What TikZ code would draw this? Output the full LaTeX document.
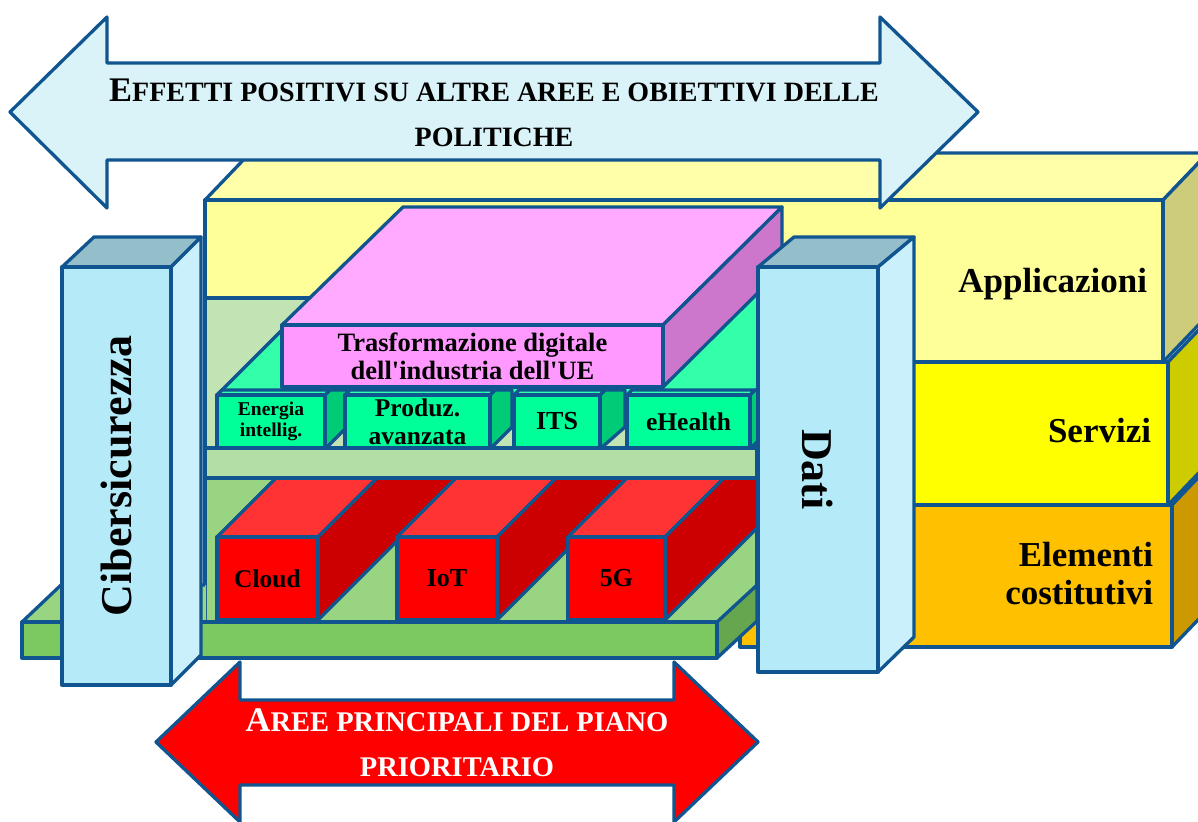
\documentclass[tikz,border=0pt]{standalone}
\usepackage{fontspec}
\setmainfont{Liberation Serif}
\usepackage{graphicx}
\definecolor{ln}{HTML}{10558F}
\definecolor{apF}{HTML}{FFFF99}
\definecolor{apT}{HTML}{FFFFAA}
\definecolor{apS}{HTML}{CCCC7A}
\definecolor{seF}{HTML}{FFFF00}
\definecolor{seS}{HTML}{CCCC00}
\definecolor{elF}{HTML}{FFC000}
\definecolor{elS}{HTML}{CC9A00}
\definecolor{wallU}{HTML}{C2E3B4}
\definecolor{shelf}{HTML}{B3DEA5}
\definecolor{tealT}{HTML}{33FFAA}
\definecolor{tealF}{HTML}{00FF99}
\definecolor{tealS}{HTML}{00CC77}
\definecolor{pkT}{HTML}{FFAAFF}
\definecolor{pkF}{HTML}{FF99FF}
\definecolor{pkS}{HTML}{CC77CC}
\definecolor{lowG}{HTML}{99D483}
\definecolor{rdT}{HTML}{FF3333}
\definecolor{rdF}{HTML}{FF0000}
\definecolor{rdS}{HTML}{CC0000}
\definecolor{platF}{HTML}{7DC961}
\definecolor{platS}{HTML}{66A64E}
\definecolor{cyF}{HTML}{B5EBF9}
\definecolor{cyS}{HTML}{C9F0FB}
\definecolor{cyT}{HTML}{95BECB}
\definecolor{arT}{HTML}{DAF3F8}
\newcommand\myinitcap[1]{{\fontsize{34.5}{44}\selectfont #1}}
\begin{document}
\begin{tikzpicture}[x=1pt,y=-1pt,
  face/.style={draw=ln,line width=3.3pt,line join=round},
  front/.style={face,rectangle,inner sep=0pt,outer sep=0pt,align=center,font=\bfseries},
  lbl/.style={inner sep=0pt,outer sep=0pt,text=black}]
\useasboundingbox (0,0) rectangle (1198,821);
\clip (0,0) rectangle (1198,821);
\fill[white] (0,0) rectangle (1198,821);

% ---- right layered box ----
\filldraw[face,fill=apT] (205,200)--(250,153)--(1208,153)--(1163,200)--cycle;
\filldraw[face,fill=apS] (1163,200)--(1208,153)--(1208,315)--(1163,362)--cycle;
\filldraw[face,fill=apF] (205,200) rectangle (1163,362);
\filldraw[face,fill=seS] (1168,362)--(1213,315)--(1213,458)--(1168,505)--cycle;
\filldraw[face,fill=seF] (740,362) rectangle (1168,505);
\filldraw[face,fill=elS] (1172,505)--(1217,458)--(1217,600)--(1172,647)--cycle;
\filldraw[face,fill=elF] (740,505) rectangle (1172,647);
\node[lbl,anchor=base east,font=\bfseries\fontsize{35}{37}\selectfont] (applicazioni) at (1147,292) {Applicazioni};
\node[lbl,anchor=base east,font=\bfseries\fontsize{35}{37}\selectfont] (servizi) at (1151,442) {Servizi};
\node[lbl,anchor=east,align=right,font=\bfseries\fontsize{35}{38}\selectfont] (elementi) at (1153,574) {Elementi\\costitutivi};

% ---- upper compartment ----
\filldraw[face,fill=wallU] (205,298) rectangle (757,448);
\filldraw[face,fill=tealT] (217,395)--(317,295)--(857,295)--(757,395)--cycle;
% Energia
\filldraw[face,fill=tealS] (325,395)--(330,390)--(347,390)--(347,427)--(325,449)--cycle;
\filldraw[face,fill=tealT] (217,395)--(222,390)--(330,390)--(325,395)--cycle;
\node[front,fill=tealF,minimum width=108pt,minimum height=53pt,font=\bfseries\fontsize{19.5}{20.5}\selectfont] (energia) at (271,421.5) {Energia\\intellig.};
% Produz
\filldraw[face,fill=tealS] (490,395)--(495,390)--(512,390)--(512,427)--(490,449)--cycle;
\filldraw[face,fill=tealT] (345,395)--(350,390)--(495,390)--(490,395)--cycle;
\node[front,fill=tealF,minimum width=145pt,minimum height=53pt,font=\bfseries\fontsize{25.5}{28}\selectfont] (produz) at (417.5,421.5) {Produz.\\avanzata};
% ITS
\filldraw[face,fill=tealS] (600,395)--(605,390)--(625,390)--(625,427)--(600,449)--cycle;
\filldraw[face,fill=tealT] (514,395)--(519,390)--(605,390)--(600,395)--cycle;
\node[front,fill=tealF,minimum width=86pt,minimum height=53pt,font=\bfseries\fontsize{26}{28}\selectfont] (its) at (557,421.5) {ITS};
% eHealth
\filldraw[face,fill=tealS] (750,395)--(755,390)--(772,390)--(772,427)--(750,449)--cycle;
\filldraw[face,fill=tealT] (627,395)--(632,390)--(755,390)--(750,395)--cycle;
\node[front,fill=tealF,minimum width=123pt,minimum height=53pt,font=\bfseries\fontsize{25.5}{28}\selectfont] (ehealth) at (688.5,421.5) {eHealth};
% pink box
\filldraw[face,fill=pkT] (282,325)--(403,207)--(782,207)--(663,325)--cycle;
\filldraw[face,fill=pkS] (663,325)--(782,207)--(782,269)--(663,387)--cycle;
\node[front,fill=pkF,minimum width=381pt,minimum height=62pt,font=\bfseries\fontsize{26.5}{28}\selectfont] (trasf) at (472.5,356) {Trasformazione digitale\\dell\textquotesingle industria dell\textquotesingle UE};
% shelf
\filldraw[face,fill=shelf] (205,448) rectangle (757,478);

% ---- lower compartment ----
\filldraw[face,fill=lowG] (205,478) rectangle (757,622);
\begin{scope}
\clip (205,478) rectangle (757,622);
% Cloud
\filldraw[face,fill=rdT] (217,537)--(367,387)--(468,387)--(318,537)--cycle;
\filldraw[face,fill=rdS] (318,537)--(468,387)--(468,470)--(318,620)--cycle;
\node[front,fill=rdF,minimum width=101pt,minimum height=83pt,font=\bfseries\fontsize{25.5}{28}\selectfont] (cloud) at (267.5,578.5) {Cloud};
% IoT
\filldraw[face,fill=rdT] (397,537)--(547,387)--(647,387)--(497,537)--cycle;
\filldraw[face,fill=rdS] (497,537)--(647,387)--(647,470)--(497,620)--cycle;
\node[front,fill=rdF,minimum width=100pt,minimum height=83pt,font=\bfseries\fontsize{26}{28}\selectfont] (iot) at (447,578.5) {IoT};
% 5G
\filldraw[face,fill=rdT] (568,537)--(718,387)--(815,387)--(665,537)--cycle;
\filldraw[face,fill=rdS] (665,537)--(815,387)--(815,470)--(665,620)--cycle;
\node[front,fill=rdF,minimum width=97pt,minimum height=83pt,font=\bfseries\fontsize{26}{28}\selectfont] (fiveg) at (616.5,578.5) {5G};
\end{scope}
\draw[face] (205,478)--(757,478);

% ---- platform ----
\fill[lowG] (22,622)--(61,585)--(206,585)--(206,622)--cycle;
\draw[face] (22,622)--(61,585)--(205,585);
\filldraw[face,fill=platS] (717,622)--(757,585)--(757,621)--(717,658)--cycle;
\filldraw[face,fill=platF] (22,622) rectangle (717,658);

% ---- columns ----
\filldraw[face,fill=cyT] (62,267)--(94,237)--(201,237)--(171,267)--cycle;
\filldraw[face,fill=cyS] (171,267)--(201,237)--(201,655)--(171,685)--cycle;
\node[front,fill=cyF,minimum width=109pt,minimum height=418pt,font=\bfseries\fontsize{44}{46}\selectfont] (ciber) at (116.5,476) {\rotatebox{90}{Cibersicurezza}};
\filldraw[face,fill=cyT] (758,267)--(794,237)--(914,237)--(878,267)--cycle;
\filldraw[face,fill=cyS] (878,267)--(914,237)--(914,637)--(878,672)--cycle;
\node[front,fill=cyF,minimum width=120pt,minimum height=405pt,font=\bfseries\fontsize{44}{46}\selectfont] (dati) at (818,469.5) {\rotatebox{-90}{Dati}};

% ---- arrows ----
\filldraw[face,fill=arT] (10,112)--(107,17)--(107,63)--(880,63)--(880,17)--(978,112)--(880,208)--(880,160)--(107,160)--(107,208)--cycle;
\node[lbl,align=center,font=\bfseries\fontsize{28}{45}\selectfont] (effetti) at (494,113) {\myinitcap{E}FFETTI POSITIVI SU ALTRE AREE E OBIETTIVI DELLE\\POLITICHE};
\filldraw[face,fill=rdF] (156,742)--(240,662)--(240,700)--(674,700)--(674,662)--(758,742)--(674,822)--(674,785)--(240,785)--(240,822)--cycle;
\node[lbl,text=white,align=center,font=\bfseries\fontsize{28.5}{45}\selectfont] (aree) at (457,743) {\myinitcap{A}REE PRINCIPALI DEL PIANO\\PRIORITARIO};
\end{tikzpicture}
\end{document}
